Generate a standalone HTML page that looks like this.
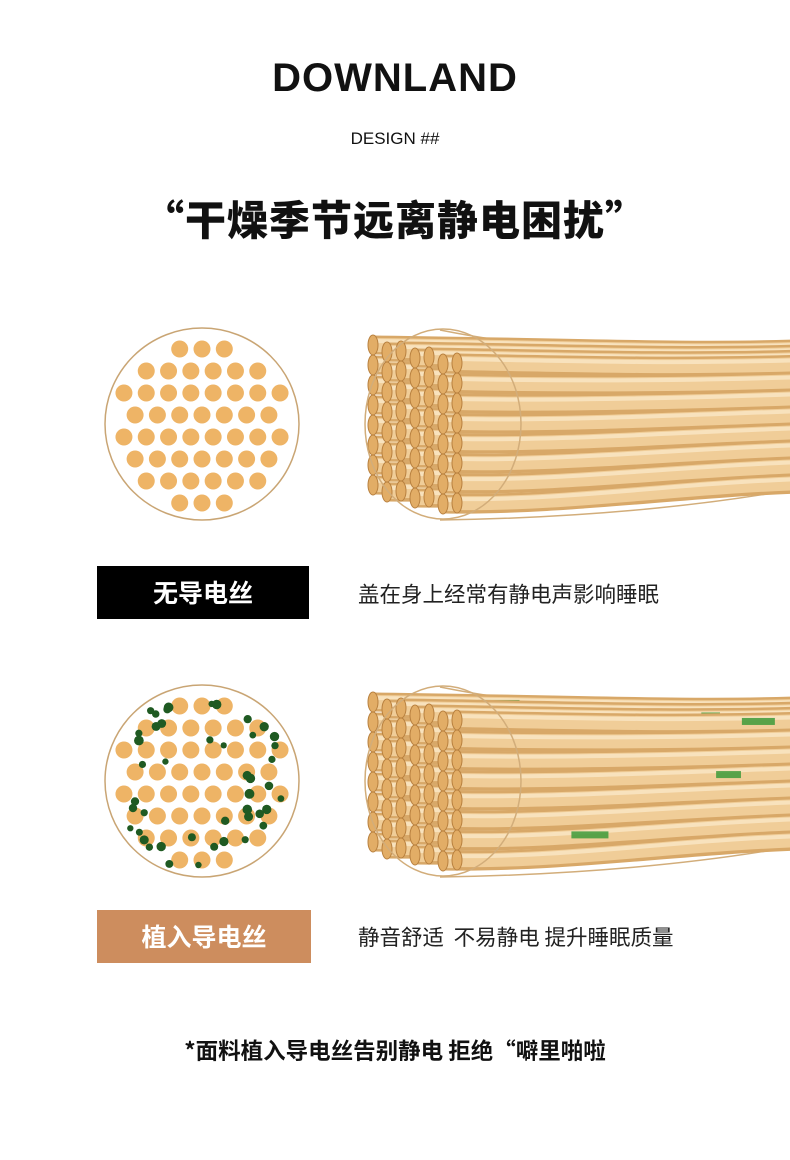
<!DOCTYPE html>
<html><head><meta charset="utf-8"><style>
body{margin:0;width:790px;height:1160px;background:#fff;position:relative;overflow:hidden;font-family:"Liberation Sans","Noto Sans CJK SC",sans-serif}
.t{position:absolute;left:0;width:790px;text-align:center;color:#111}
.box{position:absolute;left:97px;width:212px;height:53px;color:#fff;font-weight:bold;font-size:25px;text-align:center;line-height:53px;font-family:"Noto Sans CJK SC",sans-serif}
.d{position:absolute;left:358px;font-size:21.5px;color:#222;font-family:"Noto Sans CJK SC",sans-serif}
svg{position:absolute;left:0;top:0}
</style></head><body>
<div class="t" style="top:56px;font-size:40px;font-weight:bold;letter-spacing:1px">DOWNLAND</div>
<div class="t" style="top:129px;font-size:17px">DESIGN ##</div>
<div class="t" style="top:187px;font-size:41px;font-weight:900;font-family:'Noto Sans CJK SC',sans-serif;letter-spacing:1px">“干燥季节远离静电困扰”</div>
<svg id="s" width="790" height="1160"></svg>
<div class="box" style="top:566px;background:#000">无导电丝</div>
<div class="d" style="top:578px">盖在身上经常有静电声影响睡眠</div>
<div class="box" style="top:910px;background:#cd8d5e;width:214px">植入导电丝</div>
<div class="d" style="top:921px">静音舒适&nbsp;&nbsp;不易静电 提升睡眠质量</div>
<div class="t" style="top:1034px;font-size:22.5px;font-weight:bold;font-family:'Noto Sans CJK SC',sans-serif">*面料植入导电丝告别静电 拒绝“噼里啪啦</div>
<script>
var s=document.getElementById('s'),h='';
function circ(cy,green){
 h+='<ellipse cx="202" cy="'+cy+'" rx="97" ry="96" fill="none" stroke="#c9a574" stroke-width="1.5"/>';
 var rows=[3,6,8,7,8,7,6,3],ys=[-75,-53,-31,-9,13,35,57,79];
 for(var r=0;r<8;r++){var n=rows[r];for(var i=0;i<n;i++){var x=202+(i-(n-1)/2)*22.3;h+='<circle cx="'+x+'" cy="'+(cy+ys[r])+'" r="8.5" fill="#eeb466"/>';}}
 if(green){var seed=11;function rnd(){seed=(seed*9301+49297)%233280;return seed/233280;}
  for(var k=0;k<45;k++){var a=rnd()*6.28,rr=30+Math.sqrt(rnd())*60;h+='<circle cx="'+(202+Math.cos(a)*rr)+'" cy="'+(cy+Math.sin(a)*rr)+'" r="'+(3+rnd()*2)+'" fill="#1f5a22"/>';}}
}
function bundle(cy,green){
 var seed=3;function rnd(){seed=(seed*9301+49297)%233280;return seed/233280;}
 h+='<path d="M440 '+(cy-94)+' C560 '+(cy-70)+' 680 '+(cy-66)+' 790 '+(cy-72)+' M440 '+(cy+96)+' C580 '+(cy+94)+' 700 '+(cy+82)+' 790 '+(cy+66)+'" fill="none" stroke="#d2ad7a" stroke-width="1.5"/>';
 var items=[];
 for(var i=0;i<7;i++){for(var j=0;j<8;j++){
  var x=373+i*14, y=cy-70+j*20+(3-i)*-3+(i%2)*4;
  items.push([x,y,i,j]);}}
 items.sort(function(a,b){return (a[2]+a[3]*0.5)-(b[2]+b[3]*0.5);});
 items.forEach(function(it){
  var x=it[0],y=it[1];
  var ey=(cy-2)+(y-cy)*0.85-6;
  var p='M'+x+' '+y+' C560 '+(y+2)+' 680 '+(ey+4)+' 800 '+ey;
  h+='<path d="'+p+'" fill="none" stroke="#d8a868" stroke-width="19"/>';
  h+='<path d="'+p+'" fill="none" stroke="#f0cd98" stroke-width="14"/>';
  h+='<path d="M'+x+' '+(y-4)+' C560 '+(y-2)+' 680 '+(ey)+' 800 '+(ey-4)+'" fill="none" stroke="#f8e2bd" stroke-width="4"/>';
  if(green&&rnd()<0.4){var gx=x+40+rnd()*300;var t=(gx-x)/(800-x);h+='<rect x="'+gx+'" y="'+(y+(ey-y)*t-3)+'" width="'+(18+rnd()*25)+'" height="7" fill="#3d9a3a" opacity="0.85"/>';}
  h+='<ellipse cx="'+x+'" cy="'+y+'" rx="5" ry="10" fill="#e2ad66" stroke="#b8803f" stroke-width="1"/>';
 });
 h+='<ellipse cx="443" cy="'+cy+'" rx="78" ry="95" fill="none" stroke="#d2ad7a" stroke-width="1.5"/>';
}
circ(424,false);bundle(424,false);circ(781,true);bundle(781,true);
s.innerHTML=h;
</script>
</body></html>
